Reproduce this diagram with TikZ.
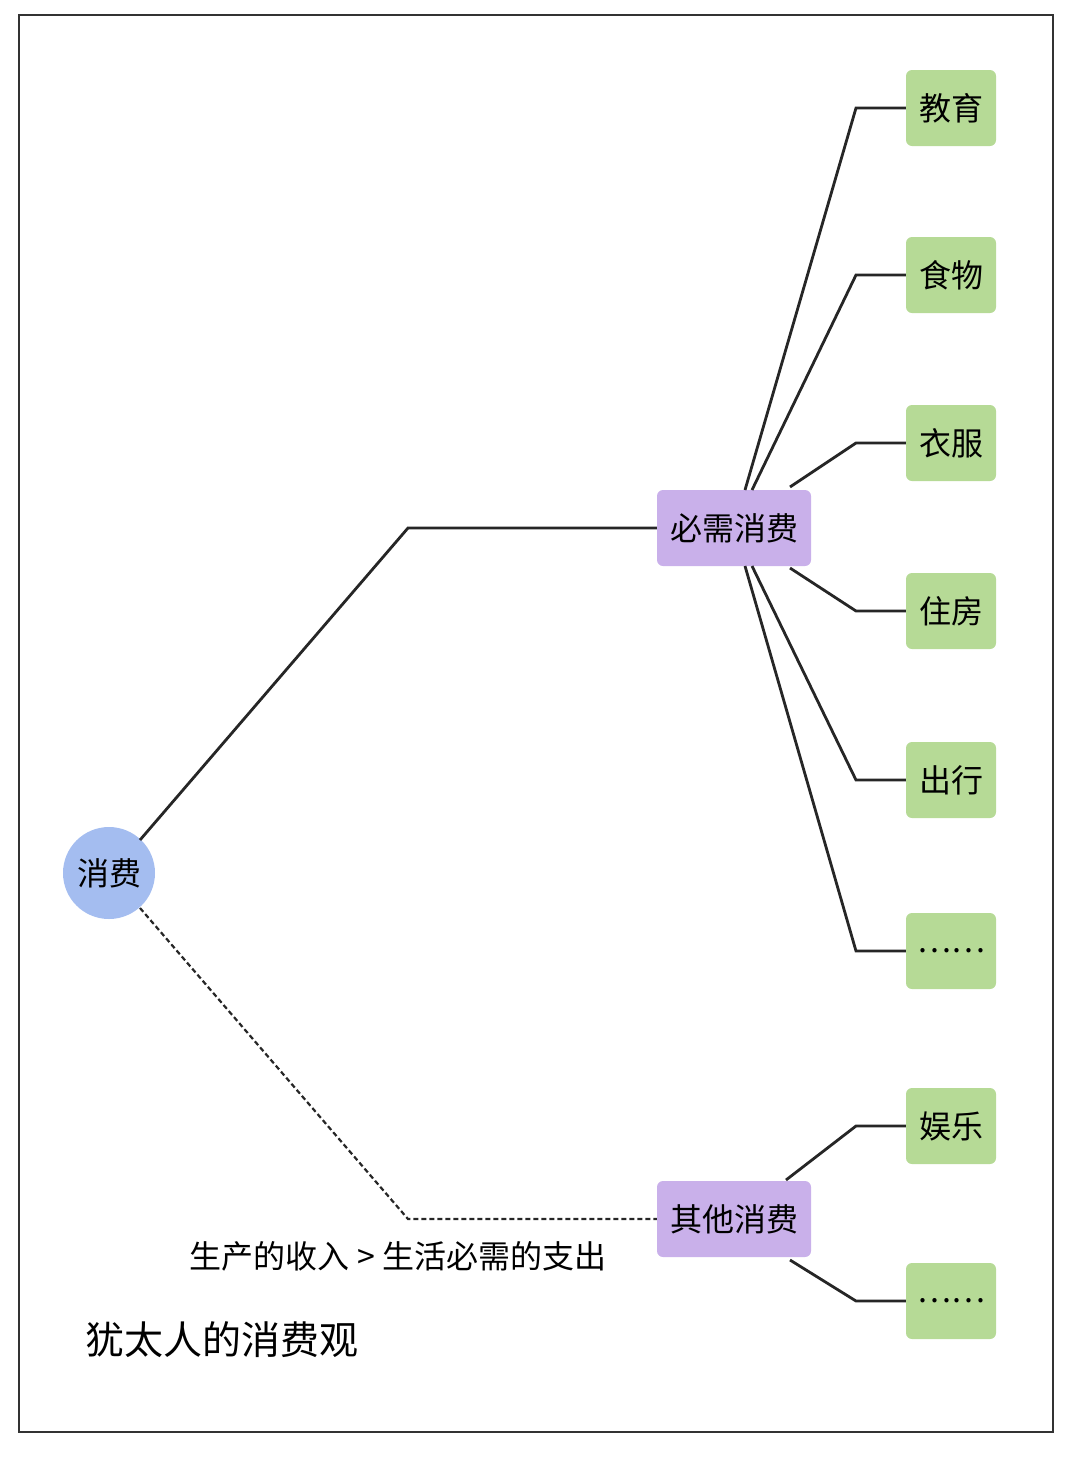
\documentclass[tikz,border=0pt]{standalone}
\usepackage{fontspec}
\setmainfont{Noto Sans CJK SC}
\begin{document}
\begin{tikzpicture}[x=1pt,y=-1pt,
  ln/.style={line width=2.8pt,black!85},
  mid/.style={draw=none,fill={rgb,255:red,201;green,176;blue,234},rounded corners=6pt,minimum width=154pt,minimum height=76pt,font=\fontsize{32}{34}\selectfont},
  leaf/.style={draw=none,fill={rgb,255:red,182;green,218;blue,150},rounded corners=6pt,minimum width=90pt,minimum height=76pt,font=\fontsize{32}{34}\selectfont}]
\useasboundingbox (0,0) rectangle (1078,1460);
\draw[line width=2pt,black!80] (19,15) rectangle (1053,1432);
\node[circle,fill={rgb,255:red,164;green,189;blue,240},minimum size=92pt,inner sep=0pt,font=\fontsize{32}{34}\selectfont] (root) at (109,873) {消费};
\node[mid] (a) at (734,528) {必需消费};
\node[mid] (b) at (734,1219) {其他消费};
\node[leaf] (l1) at (951,108) {教育};
\node[leaf] (l2) at (951,275) {食物};
\node[leaf] (l3) at (951,443) {衣服};
\node[leaf] (l4) at (951,611) {住房};
\node[leaf] (l5) at (951,780) {出行};
\node[leaf] (l6) at (951,951) {……};
\node[leaf] (l7) at (951,1126) {娱乐};
\node[leaf] (l8) at (951,1301) {……};
\coordinate (ra) at (140,840);
\coordinate (rb) at (140,908);
\draw[ln] (ra) -- (408,528) -- (a.west);
\draw[ln,dash pattern=on 5pt off 3pt,line width=2.2pt] (rb) -- (408,1219) -- (b.west);
\coordinate (a1) at (745,490);
\coordinate (a2) at (752,490);
\coordinate (a3) at (790,487);
\coordinate (a4) at (790,568);
\coordinate (a5) at (752,566);
\coordinate (a6) at (745,566);
\draw[ln] (a1) -- (856,108) -- (l1.west);
\draw[ln] (a2) -- (856,275) -- (l2.west);
\draw[ln] (a3) -- (856,443) -- (l3.west);
\draw[ln] (a4) -- (856,611) -- (l4.west);
\draw[ln] (a5) -- (856,780) -- (l5.west);
\draw[ln] (a6) -- (856,951) -- (l6.west);
\coordinate (b1) at (786,1180);
\coordinate (b2) at (790,1260);
\draw[ln] (b1) -- (856,1126) -- (l7.west);
\draw[ln] (b2) -- (856,1301) -- (l8.west);
\node[font=\fontsize{32}{34}\selectfont] (t1) at (398,1256) {生产的收入 > 生活必需的支出};
\node[font=\fontsize{39}{42}\selectfont] (t2) at (222,1340) {犹太人的消费观};
\end{tikzpicture}
\end{document}
